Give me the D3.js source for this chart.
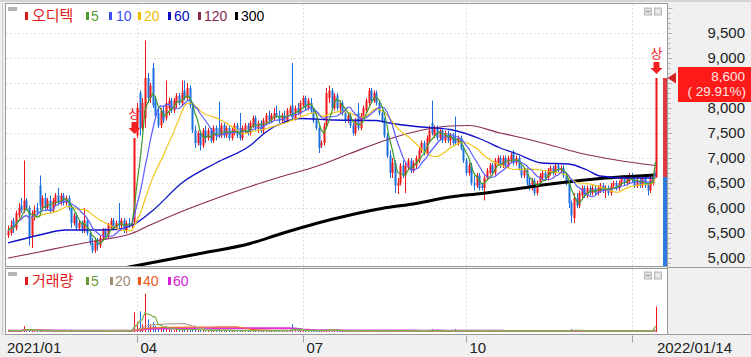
<!DOCTYPE html>
<html><head><meta charset="utf-8">
<script src="https://cdn.jsdelivr.net/npm/d3@7"></script>
<style>
html,body{margin:0;padding:0;background:#f0f0f0;}
svg{display:block;}
text{font-family:"Liberation Sans","DejaVu Sans",sans-serif;white-space:pre;}
.kr{font-family:"Noto Sans CJK KR",sans-serif;}
</style></head><body>
<svg id="c" width="751" height="357"></svg>
<script>
// ---------- DATA (daily candles, 2021/01 .. 2022/01/14) ----------
const opens = [5450,5500,5750,5600,5850,6050,5950,6150,6000,5450,5800,6000,6450,6000,6200,6000,6150,5950,6100,6250,
6100,6250,6100,6200,6000,5700,5850,5600,5700,5550,5750,5500,5300,5150,5350,5250,5400,5550,5450,5600,
5750,5600,5750,5650,5750,5550,5700,5650,5720,7450,8300,7600,7800,8600,8200,8800,8100,7900,7650,7950,
7800,8000,8150,7950,8100,8250,8100,8350,8200,8400,8000,7550,7300,7500,7250,7550,7400,7550,7350,7600,
7600,7450,7650,7450,7600,7400,7500,7650,7600,7400,7550,7650,7500,7650,7800,7600,7700,7550,7700,7850,
7750,7800,7900,7850,7750,7850,7750,7900,8050,7800,8000,7900,8050,8200,8000,8100,7950,7750,7600,7250,
7300,7650,8200,8350,8000,8250,8000,8100,7900,7750,7850,7650,7500,7900,7600,7850,7950,8100,8350,8150,
8300,8100,7900,7750,7450,7050,6700,6900,6450,6500,6850,6650,6800,6950,6750,6850,6950,7150,7300,7100,
7350,7700,7450,7600,7400,7550,7350,7500,7350,7450,7400,7300,7400,7200,6950,6700,6850,6500,6450,6650,
6450,6400,6600,6700,6850,6700,6900,7000,6850,7000,6850,6950,7100,6900,7000,6800,6650,6750,6500,6400,
6550,6300,6500,6600,6700,6600,6700,6800,6700,6850,6750,6800,6650,6500,6100,5800,6200,6050,6250,6400,
6250,6400,6300,6400,6300,6350,6450,6350,6400,6300,6450,6500,6400,6500,6600,6500,6550,6650,6550,6450,
6550,6450,6600,6450,6350,6500,6620];
const highs = [5650,5750,5800,5950,6100,6200,6950,6200,6050,5950,6050,6100,6650,6250,6300,6200,6250,6200,6300,6400,
6300,6300,6250,6250,6050,5900,5900,5750,5750,6000,5800,5550,5400,5400,5400,5450,5600,5600,5700,5800,
5800,5750,6100,5800,5800,5750,5800,5750,7400,8100,8350,8200,9350,8700,8500,8900,8200,8000,8000,8050,
8550,8200,8200,8200,8300,8300,8550,8550,8500,8450,8050,7650,7550,7550,7600,7650,7600,7600,7650,7650,
8130,7700,7700,7650,7650,7600,7700,7700,7900,7650,7700,7700,7750,7850,7850,7750,7750,7800,7900,7950,
7900,8000,8050,7950,7900,7950,8000,8050,8900,8050,8100,8150,8250,8250,8200,8200,8000,7800,7650,7350,
7700,8400,8450,8400,8300,8300,8150,8150,7950,7900,7900,7700,7800,8100,7900,8050,8200,8400,8400,8350,
8350,8150,7950,7800,7500,7150,7000,6950,6600,6900,6950,6900,7000,7000,6950,7050,7200,7350,7350,7450,
7650,8150,7650,7650,7600,7600,7550,7550,7500,7500,7830,7450,7450,7250,7000,6900,6900,6650,6700,6700,
6500,6650,6800,6900,6900,7000,7050,7050,7050,7050,7050,7100,7150,7050,7050,6850,6800,6800,6600,6600,
6600,6550,6700,6750,6750,6800,6850,6850,6900,6900,6850,6850,6700,6550,6150,6300,6300,6350,6450,6450,
6450,6450,6450,6450,6450,6500,6500,6450,6450,6500,6550,6550,6550,6650,6650,6650,6700,6700,6600,6600,
6600,6650,6650,6500,6650,6700,8600];
const lows = [5400,5450,5500,5550,5800,5900,5900,5950,5250,5200,5750,5850,5950,5950,5950,5950,5900,5900,6050,6050,
6050,6050,6050,5950,5600,5650,5550,5550,5500,5500,5450,5250,5100,5100,5150,5200,5350,5400,5400,5550,
5550,5550,5600,5550,5500,5500,5600,5600,5700,7400,7450,7550,7600,8100,8100,8000,7800,7600,7600,7700,
7750,7850,7900,7900,8000,8050,8050,8150,8150,8000,7500,7200,7250,7150,7200,7300,7350,7300,7300,7350,
7400,7400,7400,7400,7350,7350,7450,7400,7350,7350,7500,7450,7450,7600,7550,7500,7500,7500,7650,7700,
7700,7750,7800,7700,7700,7700,7700,7850,7750,7750,7850,7850,8000,7950,7950,7900,7700,7550,7100,7200,
7250,7600,8100,7950,7950,7950,7900,7850,7700,7700,7600,7450,7450,7550,7550,7800,7900,8050,8100,8100,
8050,7850,7700,7400,7000,6600,6600,6300,6280,6450,6600,6300,6750,6700,6700,6800,6900,7100,7050,7050,
7300,7450,7400,7350,7350,7300,7300,7300,7250,7250,7250,7250,7150,6900,6650,6650,6450,6350,6400,6350,
6350,6150,6550,6650,6650,6650,6850,6800,6800,6800,6800,6900,6850,6850,6750,6600,6600,6450,6350,6350,
6250,6250,6450,6550,6550,6550,6650,6650,6650,6700,6700,6600,6450,6000,5700,5700,6000,6000,6200,6200,
6200,6250,6250,6250,6250,6300,6300,6200,6250,6250,6400,6350,6350,6450,6450,6450,6500,6500,6400,6400,
6400,6400,6400,6250,6300,6450,6600];
const closes = [5550,5650,5600,5900,6000,5950,6150,6000,5400,5850,5950,5900,6050,6200,6000,6150,5950,6150,6250,6100,
6250,6100,6200,6000,5700,5850,5600,5700,5550,5750,5500,5300,5150,5350,5250,5400,5550,5450,5650,5750,
5600,5700,5650,5750,5550,5700,5650,5700,7400,8000,7600,8100,8600,8200,8450,8050,7850,7650,7950,7750,
8100,8150,7950,8150,8250,8100,8300,8200,8400,8050,7550,7300,7500,7250,7550,7400,7550,7350,7600,7450,
7450,7650,7450,7600,7400,7550,7650,7450,7400,7600,7650,7500,7700,7800,7600,7700,7550,7750,7850,7750,
7850,7900,7850,7750,7850,7750,7950,8000,7800,8000,7900,8100,8200,8000,8150,7950,7750,7600,7200,7300,
7650,8300,8350,8000,8250,8000,8100,7900,7750,7850,7650,7500,7750,7600,7850,8000,8150,8350,8150,8300,
8100,7900,7750,7450,7050,6700,6900,6450,6500,6850,6650,6850,6950,6750,6900,7000,7150,7300,7100,7400,
7550,7500,7600,7400,7550,7350,7500,7350,7450,7300,7300,7400,7200,6950,6700,6850,6500,6450,6650,6400,
6400,6600,6750,6850,6700,6950,7000,6850,7000,6850,7000,7050,6900,7000,6800,6650,6750,6500,6400,6550,
6300,6500,6650,6700,6600,6750,6800,6700,6850,6750,6800,6650,6500,6100,5850,6200,6050,6300,6400,6250,
6400,6300,6400,6300,6400,6450,6350,6400,6300,6450,6500,6400,6500,6600,6500,6600,6650,6550,6450,6550,
6450,6600,6450,6350,6600,6620,8600];
const volumes = [1.5,1.2,1,1.3,1.5,1.2,6,1.5,2,1.5,1,1,2,1,1,0.8,1,1,1.2,1,
1,0.8,1,1,1.5,1,1,0.8,1,1.5,1,1.2,1.5,1,1,0.8,1,1,1,1.2,
1,0.8,2,1,1,0.8,1,3,20,10,21,8,39,13,8,10,6,4,5,3,
6,3,2.5,2,3,2,3,2.5,2,2,3,2.5,2,2,2,1.5,1.5,1.5,1.5,1.5,
3,1.5,1.5,1.2,1.2,1.2,1.5,1.2,2,1.2,1.2,1.2,1.2,1.5,1.2,1.2,1.2,1.2,1.5,1.2,
1.2,1.5,1.2,1.2,1.2,1.2,1.5,1.5,8,1.5,1.2,1.5,1.5,1.2,1.2,1.2,1.2,1.2,2,1.2,
1.5,3,2,1.5,1.5,1.2,1.2,1.2,1,1,1,1,1,1.5,1,1.2,1.2,1.5,1.2,1.2,
1.2,1,1,1.2,1.5,1.5,1.2,2,1.5,1.2,1,1,1,0.8,0.8,0.8,1,1.2,1,1,
1.2,3,1.2,1,1,1,0.8,0.8,0.8,0.8,3,1,1,1,1.2,1,1.2,1,1,1,
1,1.5,1,1,1,1,1,0.8,0.8,0.8,0.8,0.8,1,0.8,0.8,0.8,0.8,0.8,1,0.8,
1,0.8,0.8,0.8,0.8,0.8,0.8,0.8,0.8,0.8,0.8,0.8,1,2,3,2,1,1,1,0.8,
0.8,0.8,0.8,0.8,0.8,0.8,0.8,0.8,0.8,0.8,0.8,0.8,0.8,0.8,0.8,0.8,0.8,0.8,0.8,0.8,
0.8,0.8,0.8,1,1,2,26];

// long moving averages (candle index, price)
const ma60Idx = [0,12,22,31,40,47,55,66,79,92,98,105,111,124,140,145,155,168,180,187,193,203,213,220,225,235,246];
const ma60Val = [5300,5460,5560,5560,5570,5650,5950,6500,6900,7250,7520,7720,7790,7760,7750,7700,7630,7570,7370,7200,7090,6900,6880,6760,6640,6600,6600];
const ma120Idx = [0,10,22,35,47,54,66,79,92,104,117,130,142,155,168,175,187,193,206,218,231,246];
const ma120Val = [5000,5100,5230,5360,5490,5660,5930,6190,6430,6630,6830,7090,7330,7530,7640,7650,7500,7430,7260,7090,6960,6850];
const ma300Idx = [44,60,73,92,104,117,130,142,155,168,180,193,206,225,246];
const ma300Val = [4800,4960,5090,5290,5490,5690,5860,5990,6090,6220,6290,6380,6480,6590,6660];

// axes / labels
const priceTicks = [5000,5500,6000,6500,7000,7500,8000,8500,9000,9500];
const monthStartIdx = [49,112,174,237];
const monthLabels = ["04","07","10",""];
const firstDateLabel = "2021/01";
const lastDateLabel = "2022/01/14";
const upperLimitIdx = [48,246];
const stockName = "오디텍";
const maPeriods = ["5","10","20","60","120","300"];
const volLegend = ["5","20","40","60"];
const currentPrice = 8600, prevClose = 6620, changePct = "29.91";

// ---------- DRAW ----------
const svg = d3.select("#c");
const N = closes.length;
const PL = 5.5, PR = 667.5, PT = 3.5, PB = 266.5;   // main panel
const VT = 268.5, VB = 334.5;                       // volume panel
const x = d3.scaleLinear().domain([0, N-1]).range([8, 655.5]);
const y = d3.scaleLinear().domain([5000, 9500]).range([258, 33]);
const yV = d3.scaleLinear().domain([0, 60]).range([332, 273]);

const UP = "#f01818", DN = "#1a70e0";

svg.append("rect").attr("width",751).attr("height",357).attr("fill","#f0f0f0");
svg.append("line").attr("x1",0).attr("x2",751).attr("y1",1).attr("y2",1).attr("stroke","#d4d4d4").attr("stroke-width",2);
svg.append("rect").attr("x",PL).attr("y",PT).attr("width",PR-PL).attr("height",PB-PT).attr("fill","#fff").attr("stroke","#9a9a9a");
svg.append("rect").attr("x",PL).attr("y",VT).attr("width",PR-PL).attr("height",VB-VT).attr("fill","#fff").attr("stroke","#9a9a9a");
svg.append("line").attr("x1",2.5).attr("x2",2.5).attr("y1",3).attr("y2",335).attr("stroke","#c8c8c8");
[VT-1, VB].forEach(yy => svg.append("line").attr("x1",PR).attr("x2",751).attr("y1",yy).attr("y2",yy).attr("stroke","#9a9a9a"));

const defs = svg.append("defs");
defs.append("clipPath").attr("id","cm").append("rect").attr("x",PL+0.5).attr("y",PT+0.5).attr("width",PR-PL-1).attr("height",PB-PT-1);
defs.append("clipPath").attr("id","cv").append("rect").attr("x",PL+0.5).attr("y",VT+0.5).attr("width",PR-PL-1).attr("height",VB-VT-1);

// grid
const grid = svg.append("g").attr("stroke","#c4c4c4").attr("stroke-dasharray","1,3");
priceTicks.forEach(v => grid.append("line").attr("x1",PL+1).attr("x2",PR-1).attr("y1",Math.round(y(v))+0.5).attr("y2",Math.round(y(v))+0.5));
monthStartIdx.forEach(i => {
  const xx = Math.round(x(i))+0.5;
  grid.append("line").attr("x1",xx).attr("x2",xx).attr("y1",PT+1).attr("y2",PB-1);
  grid.append("line").attr("x1",xx).attr("x2",xx).attr("y1",VT+1).attr("y2",VB-1);
});

// right axis
const ax = svg.append("g");
d3.range(4900, 10001, 100).forEach(v => {
  const yy = Math.round(y(v))+0.5;
  if (yy > PB || yy < PT) return;
  ax.append("line").attr("x1",PR).attr("x2",PR+(v%500===0?5:3)).attr("y1",yy).attr("y2",yy).attr("stroke","#b4b4b4");
});
const ly = y(currentPrice);
// the 8,500 label sits fully under the current-price box, as in the reference
priceTicks.filter(v => Math.abs(y(v)-ly) > 12).forEach(v => ax.append("text").attr("x",745).attr("y",y(v)+5).attr("text-anchor","end")
  .attr("font-size",15).attr("fill","#222").text(d3.format(",")(v)));

// main plot
const gm = svg.append("g").attr("clip-path","url(#cm)");
const cg = gm.append("g");
d3.range(N).forEach(i => {
  const o=opens[i], c=closes[i], h=highs[i], l=lows[i];
  const col = c >= o ? UP : DN;
  const xx = Math.round(x(i));
  cg.append("line").attr("x1",xx+0.5).attr("x2",xx+0.5).attr("y1",y(h)).attr("y2",y(l)).attr("stroke",col);
  const t = Math.min(y(o),y(c)), b = Math.max(y(o),y(c));
  cg.append("rect").attr("x",xx-0.5).attr("y",t).attr("width",2).attr("height",Math.max(1,b-t)).attr("fill",col);
});

function sma(arr,n){ return arr.map((_,i)=>d3.mean(arr.slice(Math.max(0,i-n+1), i+1))); }
const lineI = d3.line().x((d,i)=>x(i)).y(d=>y(d));
const lineS = d3.line().x(d=>x(d[0])).y(d=>y(d[1])).curve(d3.curveMonotoneX);
gm.append("path").attr("d",lineS(d3.zip(ma300Idx,ma300Val))).attr("fill","none").attr("stroke","#000").attr("stroke-width",3);
gm.append("path").attr("d",lineS(d3.zip(ma120Idx,ma120Val))).attr("fill","none").attr("stroke","#8c2c5c").attr("stroke-width",1.2);
gm.append("path").attr("d",lineS(d3.zip(ma60Idx,ma60Val))).attr("fill","none").attr("stroke","#1010c8").attr("stroke-width",1.3);
gm.append("path").attr("d",lineI(sma(closes,20))).attr("fill","none").attr("stroke","#f0c419").attr("stroke-width",1.2);
gm.append("path").attr("d",lineI(sma(closes,10))).attr("fill","none").attr("stroke","#5a5aff").attr("stroke-width",1.2);
gm.append("path").attr("d",lineI(sma(closes,5))).attr("fill","none").attr("stroke","#3f9a2a").attr("stroke-width",1.2);

// upper-limit markers
upperLimitIdx.forEach(i => {
  const xx = Math.round(x(i))+0.5, yy = y(highs[i]);
  const g = svg.append("g").attr("fill","#f02020");
  g.append("rect").attr("x",xx-3).attr("y",yy-16).attr("width",6).attr("height",6);
  g.append("path").attr("d",`M${xx-6},${yy-10}L${xx+6},${yy-10}L${xx},${yy-4}Z`);
  g.append("text").attr("class","kr").attr("x",xx).attr("y",yy-20).attr("text-anchor","middle").attr("font-size",13).text("상");
});

// current price band + label
svg.append("rect").attr("x",663).attr("y",y(currentPrice)).attr("width",4).attr("height",y(prevClose)-y(currentPrice)).attr("fill","#e23a3a");
svg.append("rect").attr("x",663).attr("y",y(prevClose)).attr("width",4).attr("height",PB-0.5-y(prevClose)).attr("fill","#2a7ce0");
svg.append("path").attr("d",`M667.5,${ly}L676,${ly-5.5}L676,${ly+5.5}Z`).attr("fill","#d42020");
svg.append("rect").attr("x",678).attr("y",ly-11).attr("width",73).attr("height",35).attr("fill","#ff1a1a");
svg.append("text").attr("x",745).attr("y",ly+3).attr("text-anchor","end").attr("font-size",13.5).attr("fill","#ffe4e4").text(d3.format(",")(currentPrice));
svg.append("text").attr("x",746).attr("y",ly+18).attr("text-anchor","end").attr("font-size",13.5).attr("fill","#ffe4e4").text(`( ${changePct}%)`);

// volume
const gv = svg.append("g").attr("clip-path","url(#cv)");
d3.range(N).forEach(i => {
  const col = closes[i] >= opens[i] ? UP : DN;
  const xx = Math.round(x(i))+0.5;
  gv.append("line").attr("x1",xx).attr("x2",xx).attr("y1",yV(0)).attr("y2",yV(volumes[i])).attr("stroke",col);
});
const lineV = d3.line().x((d,i)=>x(i)).y(d=>yV(d));
[[60,"#e030e0",2],[40,"#f06a2a",1.2],[20,"#b0a08c",1.2],[5,"#78b048",1.2]].forEach(([n,c,w]) =>
  gv.append("path").attr("d",lineV(sma(volumes,n))).attr("fill","none").attr("stroke",c).attr("stroke-width",w));

// icons
[PT+4.5, VT+3.5].forEach(iy => {
  [644,654].forEach((ix,k) => {
    svg.append("rect").attr("x",ix+0.5).attr("y",iy).attr("width",7).attr("height",7).attr("fill","#dcdcdc").attr("stroke","#b8b8b8");
    if (k===0) svg.append("line").attr("x1",ix+2.5).attr("x2",ix+5.5).attr("y1",iy+3.5).attr("y2",iy+3.5).attr("stroke","#888");
    else { svg.append("path").attr("d",`M${ix+2},${iy+1.5}L${ix+6},${iy+5.5}M${ix+6},${iy+1.5}L${ix+2},${iy+5.5}`).attr("stroke","#fff"); }
  });
});

// legends
function legend(yBase, items){
  svg.append("rect").attr("x",8).attr("y",yBase-13).attr("width",9).attr("height",4).attr("fill","#b4b4b4");
  items.forEach(it => {
    svg.append("rect").attr("x",it.mx).attr("y",yBase-8).attr("width",3).attr("height",8).attr("fill",it.c);
    svg.append("text").attr("class",it.kr?"kr":null).attr("x",it.tx).attr("y",yBase+1).attr("font-size",it.kr?15:14).attr("fill",it.c).text(it.t);
  });
}
legend(20, [
  {t:stockName,c:"#e01818",mx:25,tx:32,kr:true},
  {t:maPeriods[0],c:"#4f9a2a",mx:86,tx:91},
  {t:maPeriods[1],c:"#3c4cf0",mx:109,tx:116},
  {t:maPeriods[2],c:"#eec000",mx:138,tx:144},
  {t:maPeriods[3],c:"#0a0ac0",mx:168,tx:174},
  {t:maPeriods[4],c:"#8a2450",mx:198,tx:204},
  {t:maPeriods[5],c:"#000",mx:235,tx:241}
]);
legend(285, [
  {t:"거래량",c:"#e01818",mx:25,tx:32,kr:true},
  {t:volLegend[0],c:"#6a9a3a",mx:86,tx:91},
  {t:volLegend[1],c:"#a08c78",mx:110,tx:115},
  {t:volLegend[2],c:"#e85a20",mx:138,tx:143},
  {t:volLegend[3],c:"#d820d8",mx:168,tx:173}
]);

// date axis
svg.append("text").attr("x",7).attr("y",353).attr("font-size",15).attr("fill","#222").text(firstDateLabel);
monthStartIdx.forEach((i,k) => {
  const xx = Math.round(x(i))+0.5;
  svg.append("line").attr("x1",xx).attr("x2",xx).attr("y1",VB+1).attr("y2",VB+8).attr("stroke","#a0a0a0");
  if (monthLabels[k]) svg.append("text").attr("x",xx+3).attr("y",353).attr("font-size",15).attr("fill","#222").text(monthLabels[k]);
});
svg.append("text").attr("x",732).attr("y",353).attr("text-anchor","end").attr("font-size",15).attr("fill","#222").text(lastDateLabel);
</script>
</body></html>
